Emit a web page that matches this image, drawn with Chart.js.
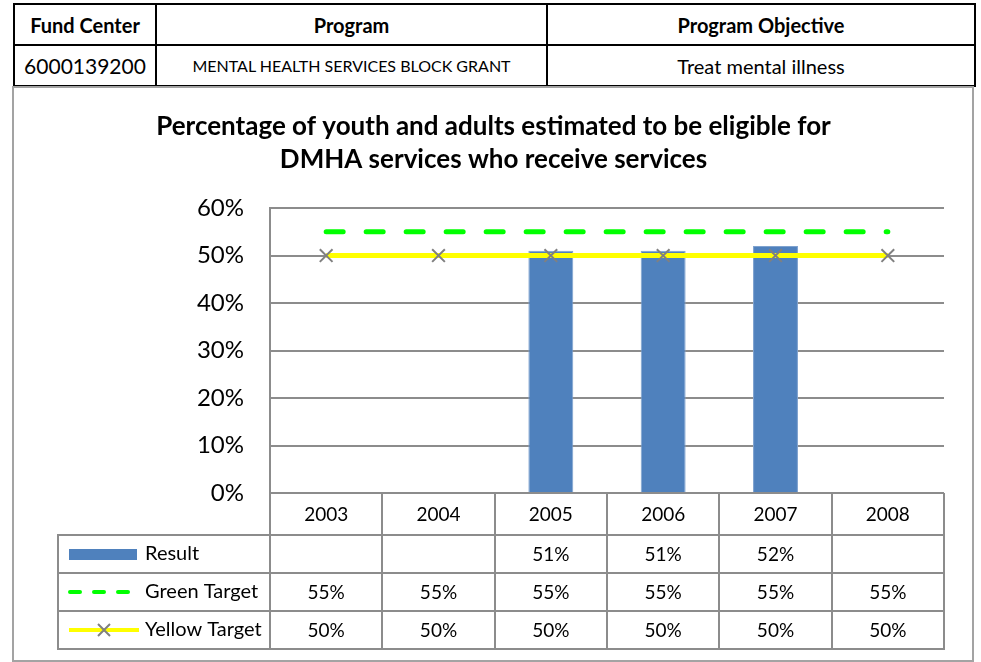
<!DOCTYPE html>
<html>
<head>
<meta charset="utf-8">
<script src="https://cdn.jsdelivr.net/npm/chart.js@4.4.1/dist/chart.umd.min.js"></script>
<style>
  body { margin: 0; background: #fff; font-family: Lato, sans-serif; }
  #hdr { position: absolute; left: 13px; top: 3px; width: 961px; border-collapse: collapse; table-layout: fixed; }
  #hdr td { border: 2px solid #000; text-align: center; padding: 0; color: #000; }
  #hdr tr { height: 41px; }
  #hdr .h td { font-weight: bold; font-size: 20px; }
  #hdr .v td { font-size: 21px; }
  #hdr .v td.small { font-size: 16px; }
  #hdr .v td.obj { font-size: 20px; }
  #box { position: absolute; left: 12px; top: 86px; width: 962px; height: 576px; border: 2px solid #a3a3a3; box-sizing: border-box; }
  #wrap { position: absolute; left: 15px; top: 88px; width: 957px; height: 572px; }
</style>
</head>
<body>
<table id="hdr">
  <colgroup><col style="width:142px"><col style="width:391px"><col style="width:428px"></colgroup>
  <tr class="h"><td>Fund Center</td><td>Program</td><td>Program Objective</td></tr>
  <tr class="v"><td>6000139200</td><td class="small">MENTAL HEALTH SERVICES BLOCK GRANT</td><td class="obj">Treat mental illness</td></tr>
</table>
<div id="box"></div>
<div id="wrap"><canvas id="chart" width="957" height="572"></canvas></div>
<script>
// chart data
const years = ['2003', '2004', '2005', '2006', '2007', '2008'];
const result = [null, null, 51, 51, 52, null];
const greenTarget = [55, 55, 55, 55, 55, 55];
const yellowTarget = [50, 50, 50, 50, 50, 50];
const yTicks = [0, 10, 20, 30, 40, 50, 60];

const gridGrey = '#8c8c8c';
const barBlue = '#4f81bd';
const green = '#00ff00';
const yellow = '#ffff00';
const markGrey = '#808080';

const pct = v => (v == null ? '' : v + '%');

// draws the data table under the plot, columns taken from the x scale
const dataTable = {
  id: 'dataTable',
  afterDraw(chart) {
    const { ctx, chartArea: a, scales: { x } } = chart;
    const colW = (a.right - a.left) / years.length;
    const rows = [a.bottom, a.bottom + 42, a.bottom + 80, a.bottom + 118, a.bottom + 156];
    const legLeft = 43;

    ctx.save();
    ctx.strokeStyle = gridGrey;
    ctx.lineWidth = 2;
    ctx.beginPath();
    for (let i = 1; i < rows.length; i++) {
      ctx.moveTo(legLeft, rows[i]);
      ctx.lineTo(a.right + 1, rows[i]);
    }
    for (let i = 0; i <= years.length; i++) {
      const px = Math.round(a.left + i * colW);
      ctx.moveTo(px, rows[0]);
      ctx.lineTo(px, rows[4] + 1);
    }
    ctx.moveTo(legLeft, rows[1] - 1);
    ctx.lineTo(legLeft, rows[4] + 1);
    ctx.stroke();

    ctx.fillStyle = '#000';
    ctx.font = '19px Lato';
    ctx.textAlign = 'center';
    ctx.textBaseline = 'middle';
    years.forEach((yr, i) => ctx.fillText(yr, x.getPixelForValue(i), (rows[0] + rows[1]) / 2 + 1));

    const series = [result, greenTarget, yellowTarget];
    series.forEach((s, r) => {
      const cy = (rows[r + 1] + rows[r + 2]) / 2 + 1;
      s.forEach((v, i) => ctx.fillText(pct(v), x.getPixelForValue(i), cy));
    });

    // legend keys
    const names = ['Result', 'Green Target', 'Yellow Target'];
    ctx.textAlign = 'left';
    ctx.font = '20px Lato';
    names.forEach((n, r) => {
      const cy = (rows[r + 1] + rows[r + 2]) / 2;
      ctx.fillStyle = '#000';
      ctx.fillText(n, 130, cy);
      if (r === 0) {
        ctx.fillStyle = barBlue;
        ctx.fillRect(54, cy - 5, 68, 11);
      } else if (r === 1) {
        ctx.strokeStyle = green;
        ctx.lineWidth = 4;
        ctx.lineCap = 'round';
        ctx.setLineDash([10, 14]);
        ctx.beginPath();
        ctx.moveTo(55, cy);
        ctx.lineTo(118, cy);
        ctx.stroke();
        ctx.setLineDash([]);
      } else {
        ctx.strokeStyle = yellow;
        ctx.lineWidth = 4;
        ctx.lineCap = 'butt';
        ctx.beginPath();
        ctx.moveTo(54, cy);
        ctx.lineTo(124, cy);
        ctx.stroke();
        ctx.strokeStyle = markGrey;
        ctx.lineWidth = 2;
        ctx.beginPath();
        ctx.moveTo(83, cy - 6); ctx.lineTo(95, cy + 6);
        ctx.moveTo(95, cy - 6); ctx.lineTo(83, cy + 6);
        ctx.stroke();
      }
    });
    ctx.restore();
  }
};

new Chart(document.getElementById('chart'), {
  data: {
    labels: years,
    datasets: [
      {
        type: 'bar',
        label: 'Result',
        data: result,
        backgroundColor: barBlue,
        borderColor: '#7ea2cf',
        borderWidth: 1,
        barPercentage: 0.4,
        categoryPercentage: 1,
        order: 3
      },
      {
        type: 'line',
        label: 'Green Target',
        data: greenTarget,
        borderColor: green,
        borderWidth: 5,
        borderDash: [17, 23],
        borderCapStyle: 'round',
        pointRadius: 0,
        order: 1
      },
      {
        type: 'line',
        label: 'Yellow Target',
        data: yellowTarget,
        borderColor: yellow,
        borderWidth: 5,
        pointStyle: 'crossRot',
        pointRadius: 9,
        pointBorderColor: markGrey,
        pointBorderWidth: 2,
        order: 2
      }
    ]
  },
  options: {
    responsive: false,
    animation: false,
    events: [],
    layout: { padding: { left: 28, right: 28, top: 0, bottom: 0 } },
    plugins: {
      legend: { display: false },
      tooltip: { enabled: false },
      title: {
        display: true,
        text: ['Percentage of youth and adults estimated to be eligible for', 'DMHA services who receive services'],
        color: '#000',
        font: { family: 'Lato', size: 26, weight: 'bold', lineHeight: 1.27 },
        padding: { top: 22, bottom: 32 }
      }
    },
    scales: {
      x: {
        grid: { display: false },
        border: { display: false },
        ticks: { display: false },
        afterFit(s) { s.height = 167; }
      },
      y: {
        min: 0,
        max: 60,
        afterBuildTicks(s) { s.ticks = yTicks.map(v => ({ value: v })); },
        grid: { color: gridGrey, lineWidth: 2, drawTicks: false },
        border: { color: gridGrey, width: 2 },
        ticks: {
          color: '#000',
          padding: 26,
          font: { family: 'Lato', size: 24 },
          callback: v => v + '%'
        },
        afterFit(s) { s.width = 227; }
      }
    }
  },
  plugins: [dataTable]
});
</script>
</body>
</html>
